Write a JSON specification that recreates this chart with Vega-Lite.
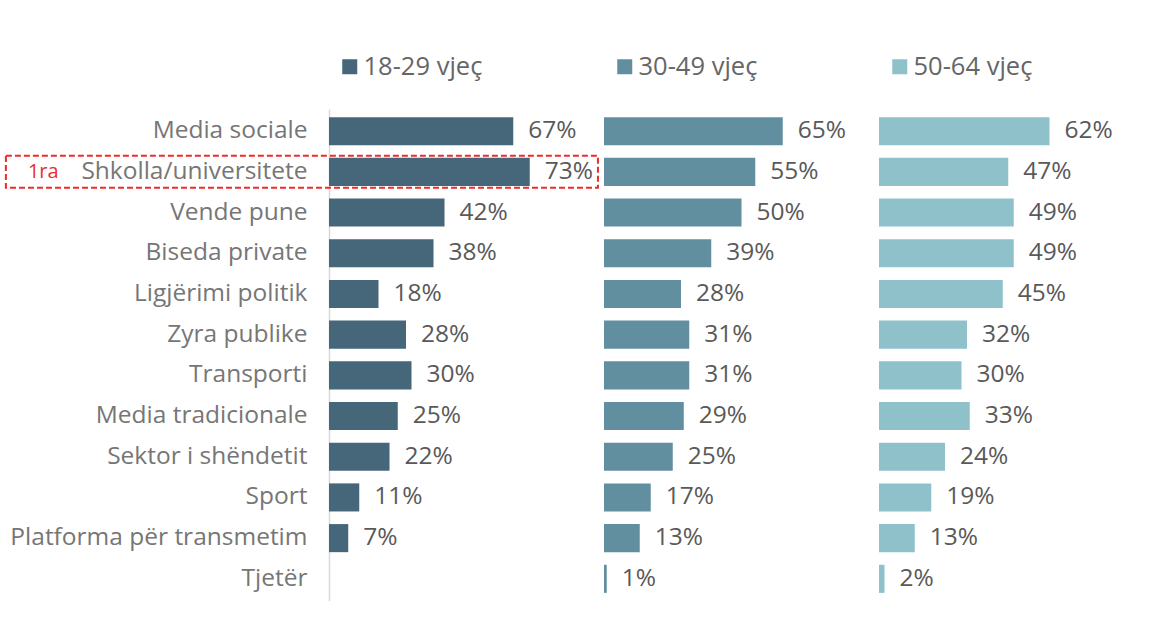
{
  "$schema": "https://vega.github.io/schema/vega-lite/v6.json",
  "background": "white",
  "padding": {"left": 4, "top": 46, "right": 0, "bottom": 0},
  "spacing": 0,
  "config": {
    "view": {"stroke": null},
    "font": "Open Sans",
    "legend": {"labelFont": "Open Sans"},
    "axis": {"labelFont": "Open Sans"}
  },
  "datasets": {
    "d": [
      {"cat": "Media sociale", "group": "18-29 vjeç", "value": 67},
      {"cat": "Shkolla/universitete", "group": "18-29 vjeç", "value": 73},
      {"cat": "Vende pune", "group": "18-29 vjeç", "value": 42},
      {"cat": "Biseda private", "group": "18-29 vjeç", "value": 38},
      {"cat": "Ligjërimi politik", "group": "18-29 vjeç", "value": 18},
      {"cat": "Zyra publike", "group": "18-29 vjeç", "value": 28},
      {"cat": "Transporti", "group": "18-29 vjeç", "value": 30},
      {"cat": "Media tradicionale", "group": "18-29 vjeç", "value": 25},
      {"cat": "Sektor i shëndetit", "group": "18-29 vjeç", "value": 22},
      {"cat": "Sport", "group": "18-29 vjeç", "value": 11},
      {"cat": "Platforma për transmetim", "group": "18-29 vjeç", "value": 7},
      {"cat": "Media sociale", "group": "30-49 vjeç", "value": 65},
      {"cat": "Shkolla/universitete", "group": "30-49 vjeç", "value": 55},
      {"cat": "Vende pune", "group": "30-49 vjeç", "value": 50},
      {"cat": "Biseda private", "group": "30-49 vjeç", "value": 39},
      {"cat": "Ligjërimi politik", "group": "30-49 vjeç", "value": 28},
      {"cat": "Zyra publike", "group": "30-49 vjeç", "value": 31},
      {"cat": "Transporti", "group": "30-49 vjeç", "value": 31},
      {"cat": "Media tradicionale", "group": "30-49 vjeç", "value": 29},
      {"cat": "Sektor i shëndetit", "group": "30-49 vjeç", "value": 25},
      {"cat": "Sport", "group": "30-49 vjeç", "value": 17},
      {"cat": "Platforma për transmetim", "group": "30-49 vjeç", "value": 13},
      {"cat": "Tjetër", "group": "30-49 vjeç", "value": 1},
      {"cat": "Media sociale", "group": "50-64 vjeç", "value": 62},
      {"cat": "Shkolla/universitete", "group": "50-64 vjeç", "value": 47},
      {"cat": "Vende pune", "group": "50-64 vjeç", "value": 49},
      {"cat": "Biseda private", "group": "50-64 vjeç", "value": 49},
      {"cat": "Ligjërimi politik", "group": "50-64 vjeç", "value": 45},
      {"cat": "Zyra publike", "group": "50-64 vjeç", "value": 32},
      {"cat": "Transporti", "group": "50-64 vjeç", "value": 30},
      {"cat": "Media tradicionale", "group": "50-64 vjeç", "value": 33},
      {"cat": "Sektor i shëndetit", "group": "50-64 vjeç", "value": 24},
      {"cat": "Sport", "group": "50-64 vjeç", "value": 19},
      {"cat": "Platforma për transmetim", "group": "50-64 vjeç", "value": 13},
      {"cat": "Tjetër", "group": "50-64 vjeç", "value": 2}
    ],
    "note": [
      {"cat": "Shkolla/universitete", "x0": -117.5, "x1": 97.8, "tx": -109.5, "label": "1ra"}
    ]
  },
  "hconcat": [
    {
      "width": 275,
      "height": 492,
      "layer": [
        {
          "data": {"name": "d"},
          "transform": [{"filter": "datum.group === '18-29 vjeç'"}],
          "mark": {"type": "bar"},
          "encoding": {
            "y": {"field": "cat", "type": "nominal", "sort": null,
              "scale": {"domain": ["Media sociale", "Shkolla/universitete", "Vende pune", "Biseda private", "Ligjërimi politik", "Zyra publike", "Transporti", "Media tradicionale", "Sektor i shëndetit", "Sport", "Platforma për transmetim", "Tjetër"], "paddingInner": 0.31, "paddingOuter": 0.2},
              "axis": {"title": null, "ticks": false, "domain": true, "domainColor": "#d9d9d9", "domainWidth": 1.5, "labelFontSize": 24.5, "labelColor": "#767676", "labelPadding": 22, "labelLimit": 400}},
            "x": {"field": "value", "type": "quantitative", "scale": {"domain": [0, 100]}, "axis": null},
            "color": {"field": "group", "type": "nominal",
              "scale": {"domain": ["18-29 vjeç"], "range": ["#466679"]},
              "legend": {"orient": "top", "title": null, "symbolType": "square", "symbolSize": 225, "symbolStrokeWidth": 0, "labelFontSize": 25.5, "labelColor": "#666666", "offset": 20, "padding": 8, "labelOffset": 1}}
          }
        },
        {
          "data": {"name": "d"},
          "transform": [{"filter": "datum.group === '18-29 vjeç'"}, {"calculate": "datum.value + '%'", "as": "lbl"}],
          "mark": {"type": "text", "align": "left", "dx": 15, "fontSize": 24.5, "color": "#595959"},
          "encoding": {
            "y": {"field": "cat", "type": "nominal", "sort": null},
            "x": {"field": "value", "type": "quantitative"},
            "text": {"field": "lbl"}
          }
        },
        {
          "data": {"name": "note"},
          "mark": {"type": "bar", "size": 32, "fill": null, "fillOpacity": 0, "stroke": "#ee2b2b", "strokeWidth": 2, "strokeDash": [6, 3]},
          "encoding": {
            "y": {"field": "cat", "type": "nominal", "sort": null},
            "x": {"field": "x0", "type": "quantitative"},
            "x2": {"field": "x1"}
          }
        },
        {
          "data": {"name": "note"},
          "mark": {"type": "text", "align": "left", "fontSize": 20, "color": "#e8302c"},
          "encoding": {
            "y": {"field": "cat", "type": "nominal", "sort": null},
            "x": {"field": "tx", "type": "quantitative"},
            "text": {"field": "label"}
          }
        }
      ]
    },
    {
      "width": 275,
      "height": 492,
      "data": {"name": "d"},
      "transform": [{"filter": "datum.group === '30-49 vjeç'"}, {"calculate": "datum.value + '%'", "as": "lbl"}],
      "encoding": {
        "y": {"field": "cat", "type": "nominal", "sort": null,
          "scale": {"domain": ["Media sociale", "Shkolla/universitete", "Vende pune", "Biseda private", "Ligjërimi politik", "Zyra publike", "Transporti", "Media tradicionale", "Sektor i shëndetit", "Sport", "Platforma për transmetim", "Tjetër"], "paddingInner": 0.31, "paddingOuter": 0.2},
          "axis": null},
        "x": {"field": "value", "type": "quantitative", "scale": {"domain": [0, 100]}, "axis": null}
      },
      "layer": [
        {
          "mark": {"type": "bar"},
          "encoding": {
            "color": {"field": "group", "type": "nominal",
              "scale": {"domain": ["30-49 vjeç"], "range": ["#628f9f"]},
              "legend": {"orient": "top", "title": null, "symbolType": "square", "symbolSize": 225, "symbolStrokeWidth": 0, "labelFontSize": 25.5, "labelColor": "#666666", "offset": 20, "padding": 8, "labelOffset": 1}}
          }
        },
        {
          "mark": {"type": "text", "align": "left", "dx": 15, "fontSize": 24.5, "color": "#595959"},
          "encoding": {"text": {"field": "lbl"}}
        }
      ]
    },
    {
      "width": 275,
      "height": 492,
      "data": {"name": "d"},
      "transform": [{"filter": "datum.group === '50-64 vjeç'"}, {"calculate": "datum.value + '%'", "as": "lbl"}],
      "encoding": {
        "y": {"field": "cat", "type": "nominal", "sort": null,
          "scale": {"domain": ["Media sociale", "Shkolla/universitete", "Vende pune", "Biseda private", "Ligjërimi politik", "Zyra publike", "Transporti", "Media tradicionale", "Sektor i shëndetit", "Sport", "Platforma për transmetim", "Tjetër"], "paddingInner": 0.31, "paddingOuter": 0.2},
          "axis": null},
        "x": {"field": "value", "type": "quantitative", "scale": {"domain": [0, 100]}, "axis": null}
      },
      "layer": [
        {
          "mark": {"type": "bar"},
          "encoding": {
            "color": {"field": "group", "type": "nominal",
              "scale": {"domain": ["50-64 vjeç"], "range": ["#8fc1cb"]},
              "legend": {"orient": "top", "title": null, "symbolType": "square", "symbolSize": 225, "symbolStrokeWidth": 0, "labelFontSize": 25.5, "labelColor": "#666666", "offset": 20, "padding": 8, "labelOffset": 1}}
          }
        },
        {
          "mark": {"type": "text", "align": "left", "dx": 15, "fontSize": 24.5, "color": "#595959"},
          "encoding": {"text": {"field": "lbl"}}
        }
      ]
    }
  ],
  "resolve": {"scale": {"color": "independent", "x": "independent", "y": "independent"}, "legend": {"color": "independent"}}
}
